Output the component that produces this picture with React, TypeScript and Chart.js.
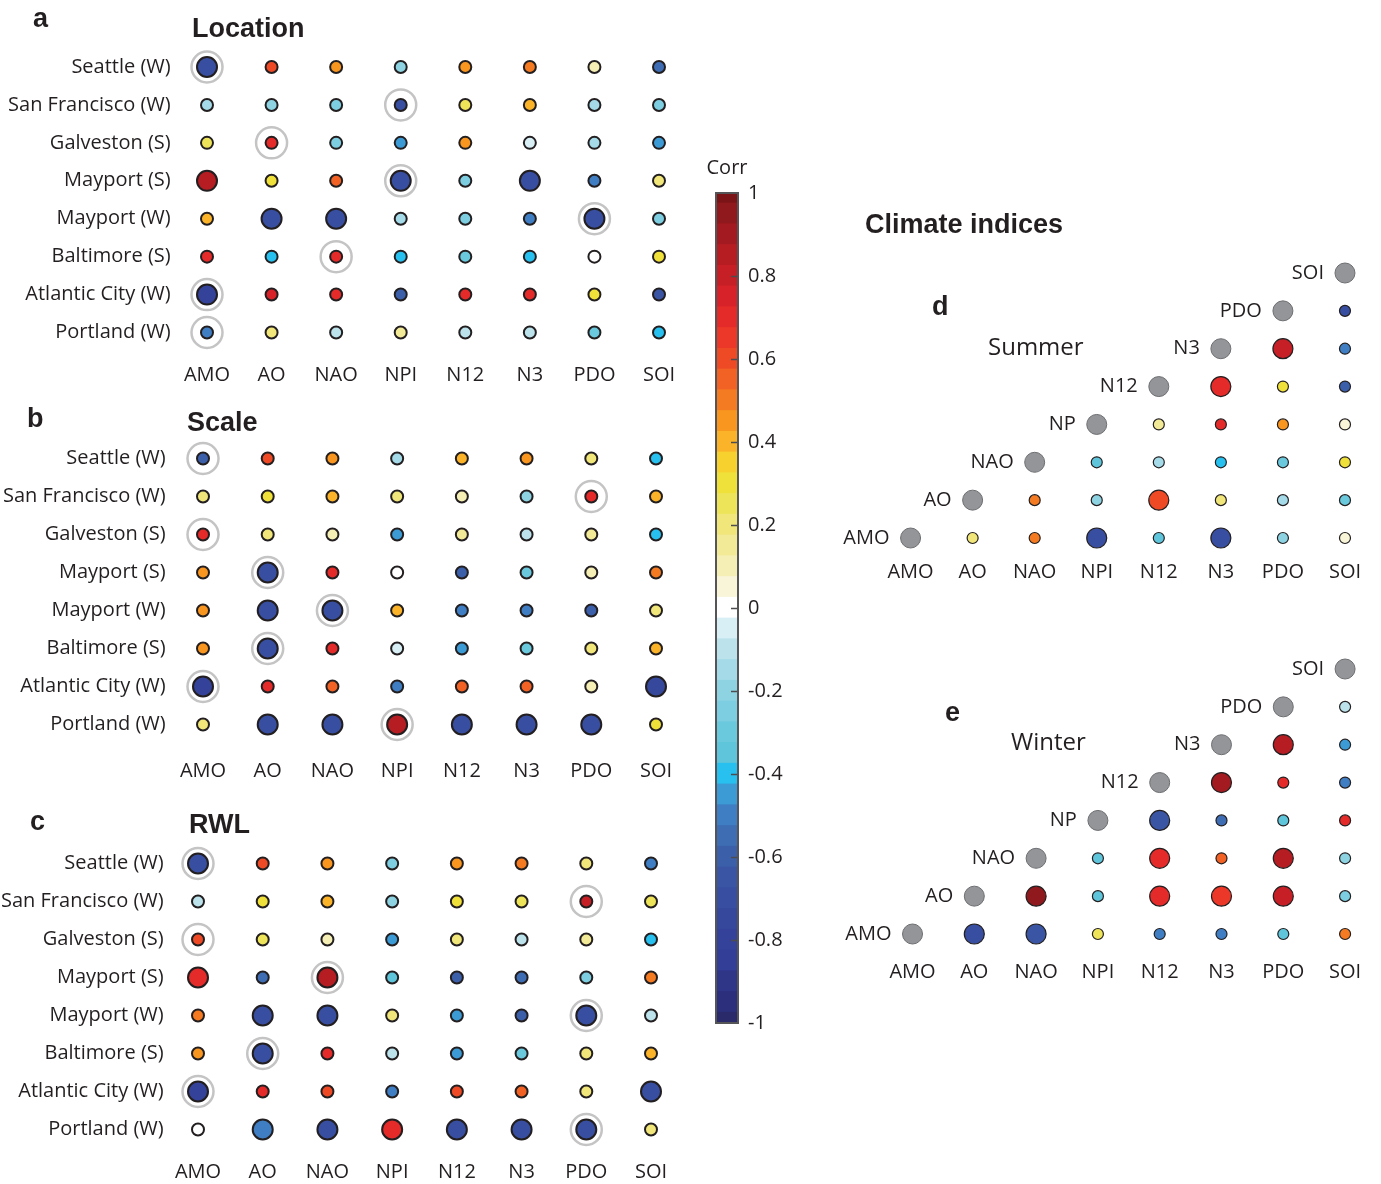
import React, { useEffect, useRef } from 'react';
import { Chart, registerables } from 'chart.js';
Chart.register(...registerables);

const PAGE_W = 1381;
const PAGE_H = 1184;
const FONT = '"Open Sans", "DejaVu Sans", sans-serif';
const BOLD = '"Liberation Sans", Arial, sans-serif';
const INK = '#231f20';

// ---------- categories ----------
const INDICES = ['AMO', 'AO', 'NAO', 'NPI', 'N12', 'N3', 'PDO', 'SOI'];
const ROW_INDICES = ['AMO', 'AO', 'NAO', 'NP', 'N12', 'N3', 'PDO', 'SOI'];
const SITES = ['Seattle (W)', 'San Francisco (W)', 'Galveston (S)', 'Mayport (S)', 'Mayport (W)', 'Baltimore (S)', 'Atlantic City (W)', 'Portland (W)'];

// ---------- panel a: Location ----------
const LOCATION_CORR = [
  [-0.72, 0.62, 0.45, -0.22, 0.45, 0.5, 0.12, -0.55],
  [-0.17, -0.2, -0.27, -0.7, 0.25, 0.4, -0.17, -0.27],
  [0.27, 0.68, -0.27, -0.45, 0.45, -0.07, -0.17, -0.45],
  [0.87, 0.3, 0.57, -0.72, -0.27, -0.72, -0.52, 0.18],
  [0.38, -0.7, -0.7, -0.17, -0.27, -0.52, -0.72, -0.27],
  [0.7, -0.4, 0.72, -0.4, -0.3, -0.4, 0.02, 0.3],
  [-0.78, 0.77, 0.7, -0.62, 0.7, 0.7, 0.32, -0.65],
  [-0.52, 0.2, -0.08, 0.15, -0.08, -0.08, -0.3, -0.4],
];
const LOCATION_BIG = [
  [1, 0, 0, 0, 0, 0, 0, 0],
  [0, 0, 0, 0, 0, 0, 0, 0],
  [0, 0, 0, 0, 0, 0, 0, 0],
  [1, 0, 0, 1, 0, 1, 0, 0],
  [0, 1, 1, 0, 0, 0, 1, 0],
  [0, 0, 0, 0, 0, 0, 0, 0],
  [1, 0, 0, 0, 0, 0, 0, 0],
  [0, 0, 0, 0, 0, 0, 0, 0],
];
const LOCATION_RING = [
  [1, 0, 0, 0, 0, 0, 0, 0],
  [0, 0, 0, 1, 0, 0, 0, 0],
  [0, 1, 0, 0, 0, 0, 0, 0],
  [0, 0, 0, 1, 0, 0, 0, 0],
  [0, 0, 0, 0, 0, 0, 1, 0],
  [0, 0, 1, 0, 0, 0, 0, 0],
  [1, 0, 0, 0, 0, 0, 0, 0],
  [1, 0, 0, 0, 0, 0, 0, 0],
];

// ---------- panel b: Scale ----------
const SCALE_CORR = [
  [-0.6, 0.58, 0.45, -0.17, 0.4, 0.45, 0.2, -0.4],
  [0.18, 0.3, 0.4, 0.18, 0.1, -0.2, 0.72, 0.4],
  [0.7, 0.2, 0.1, -0.45, 0.17, -0.12, 0.17, -0.4],
  [0.45, -0.72, 0.7, 0.02, -0.62, -0.3, 0.08, 0.52],
  [0.45, -0.7, -0.72, 0.4, -0.52, -0.52, -0.6, 0.18],
  [0.45, -0.72, 0.7, -0.07, -0.45, -0.3, 0.2, 0.4],
  [-0.78, 0.72, 0.57, -0.5, 0.57, 0.57, 0.12, -0.75],
  [0.22, -0.7, -0.7, 0.85, -0.7, -0.7, -0.7, 0.32],
];
const SCALE_BIG = [
  [0, 0, 0, 0, 0, 0, 0, 0],
  [0, 0, 0, 0, 0, 0, 0, 0],
  [0, 0, 0, 0, 0, 0, 0, 0],
  [0, 1, 0, 0, 0, 0, 0, 0],
  [0, 1, 1, 0, 0, 0, 0, 0],
  [0, 1, 0, 0, 0, 0, 0, 0],
  [1, 0, 0, 0, 0, 0, 0, 1],
  [0, 1, 1, 1, 1, 1, 1, 0],
];
const SCALE_RING = [
  [1, 0, 0, 0, 0, 0, 0, 0],
  [0, 0, 0, 0, 0, 0, 1, 0],
  [1, 0, 0, 0, 0, 0, 0, 0],
  [0, 1, 0, 0, 0, 0, 0, 0],
  [0, 0, 1, 0, 0, 0, 0, 0],
  [0, 1, 0, 0, 0, 0, 0, 0],
  [1, 0, 0, 0, 0, 0, 0, 0],
  [0, 0, 0, 1, 0, 0, 0, 0],
];

// ---------- panel c: RWL ----------
const RWL_CORR = [
  [-0.72, 0.62, 0.47, -0.27, 0.47, 0.52, 0.2, -0.5],
  [-0.08, 0.3, 0.4, -0.22, 0.28, 0.25, 0.82, 0.27],
  [0.6, 0.27, 0.1, -0.45, 0.2, -0.12, 0.17, -0.4],
  [0.7, -0.55, 0.85, -0.35, -0.62, -0.55, -0.27, 0.52],
  [0.5, -0.68, -0.68, 0.2, -0.45, -0.6, -0.68, -0.08],
  [0.47, -0.7, 0.72, -0.08, -0.45, -0.3, 0.2, 0.4],
  [-0.78, 0.68, 0.6, -0.5, 0.6, 0.57, 0.2, -0.72],
  [0.02, -0.5, -0.68, 0.7, -0.68, -0.68, -0.68, 0.2],
];
const RWL_BIG = [
  [1, 0, 0, 0, 0, 0, 0, 0],
  [0, 0, 0, 0, 0, 0, 0, 0],
  [0, 0, 0, 0, 0, 0, 0, 0],
  [1, 0, 1, 0, 0, 0, 0, 0],
  [0, 1, 1, 0, 0, 0, 1, 0],
  [0, 1, 0, 0, 0, 0, 0, 0],
  [1, 0, 0, 0, 0, 0, 0, 1],
  [0, 1, 1, 1, 1, 1, 1, 0],
];
const RWL_RING = [
  [1, 0, 0, 0, 0, 0, 0, 0],
  [0, 0, 0, 0, 0, 0, 1, 0],
  [1, 0, 0, 0, 0, 0, 0, 0],
  [0, 0, 1, 0, 0, 0, 0, 0],
  [0, 0, 0, 0, 0, 0, 1, 0],
  [0, 1, 0, 0, 0, 0, 0, 0],
  [1, 0, 0, 0, 0, 0, 0, 0],
  [0, 0, 0, 0, 0, 0, 1, 0],
];

// ---------- panels d/e: climate indices (upper triangle, row i -> columns i+1..7) ----------
const SUMMER_CORR = [
  [0.2, 0.5, -0.68, -0.33, -0.68, -0.22, 0.07],
  [0.5, -0.22, 0.6, 0.2, -0.15, -0.3],
  [-0.33, -0.15, -0.4, -0.3, 0.28],
  [0.15, 0.68, 0.45, 0.07],
  [0.68, 0.3, -0.6],
  [0.8, -0.5],
  [-0.7],
];
const SUMMER_BIG = [
  [0, 0, 1, 0, 1, 0, 0],
  [0, 0, 1, 0, 0, 0],
  [0, 0, 0, 0, 0],
  [0, 0, 0, 0],
  [1, 0, 0],
  [1, 0],
  [0],
];
const WINTER_CORR = [
  [-0.68, -0.65, 0.27, -0.52, -0.52, -0.33, 0.52],
  [0.97, -0.33, 0.68, 0.65, 0.8, -0.25],
  [-0.33, 0.68, 0.55, 0.85, -0.2],
  [-0.65, -0.55, -0.33, 0.7],
  [0.9, 0.7, -0.52],
  [0.85, -0.45],
  [-0.1],
];
const WINTER_BIG = [
  [1, 1, 0, 0, 0, 0, 0],
  [1, 0, 1, 1, 1, 0],
  [0, 1, 0, 1, 0],
  [1, 0, 0, 0],
  [1, 0, 0],
  [1, 0],
  [0],
];

// ---------- colour bar ----------
const CB_TICKS = [1, 0.8, 0.6, 0.4, 0.2, 0, -0.2, -0.4, -0.6, -0.8, -1];
// colours from -1 to 1 in steps of 0.05
const CMAP_COLORS = [
  '#2a2a6a', '#2c2f7c', '#2f3688', '#333e96', '#344399', '#36489c', '#384ea0', '#3a55a4', '#3c5faa', '#3e6db4',
  '#3f7ec3', '#3c9ad5', '#27c0ef', '#5ec5db', '#6bc9dd', '#7dcee0', '#8dd3e2', '#a5dbe8', '#bce3ec', '#d8eff5',
  '#ffffff',
  '#f8f5d8', '#f5efb5', '#f2ea96', '#f0e67a', '#eee45a', '#f0e03a', '#f7d12d', '#fbb429', '#f8961f', '#f47b21',
  '#f16224', '#ee4a26', '#ec3828', '#e52a2a', '#d62228', '#c61f26', '#b51d23', '#a31b20', '#8f191c', '#7b1416',
];
function corrColor(v: number) {
  const k = Math.max(0, Math.min(40, Math.round((v + 1) / 0.05)));
  return CMAP_COLORS[k];
}

type TextItem = { text: string; x: number; y: number; font: string; align?: CanvasTextAlign; color?: string };
function textPlugin(items: TextItem[]) {
  return {
    id: 'staticTexts',
    afterDraw(chart: any) {
      const ctx = chart.ctx;
      ctx.save();
      for (const t of items) {
        ctx.font = t.font;
        ctx.fillStyle = t.color || INK;
        ctx.textAlign = t.align || 'left';
        ctx.textBaseline = 'middle';
        ctx.fillText(t.text, t.x, t.y);
      }
      ctx.restore();
    },
  };
}

const TICK_FONT = { family: FONT, size: 20 };

type GridSpec = {
  corr: number[][]; big: number[][]; ring: number[][];
  x0: number; x7: number; y0: number; y7: number;
  labelPad: number; xPad: number; texts: TextItem[];
};

function gridConfig(s: GridSpec): any {
  const dx = (s.x7 - s.x0) / 7;
  const dy = (s.y7 - s.y0) / 7;
  const left = s.x0 - dx / 2, right = s.x7 + dx / 2, top = s.y0 - dy / 2, bottom = s.y7 + dy / 2;
  const XH = 50;
  const pts: any[] = [];
  const rings: any[] = [];
  s.corr.forEach((row, i) => row.forEach((v, j) => {
    pts.push({ x: j, y: i, v, big: s.big[i][j] });
    if (s.ring[i][j]) rings.push({ x: j, y: i });
  }));
  return {
    type: 'scatter',
    data: {
      datasets: [
        { data: rings, order: 2, clip: false, pointRadius: 15.5, pointHoverRadius: 15.5, pointBackgroundColor: 'rgba(0,0,0,0)', pointBorderColor: '#c4c4c4', pointBorderWidth: 2.5 },
        {
          data: pts, order: 1, clip: false,
          pointRadius: (c: any) => (c.raw && c.raw.big ? 10 : 6),
          pointBackgroundColor: (c: any) => (c.raw ? corrColor(c.raw.v) : '#fff'),
          pointBorderColor: INK, pointBorderWidth: 2,
        },
      ],
    },
    options: {
      responsive: false, animation: false, events: [], devicePixelRatio: 1,
      layout: { padding: { left: 0, top, right: PAGE_W - right, bottom: PAGE_H - bottom - XH } },
      plugins: { legend: { display: false }, tooltip: { enabled: false } },
      scales: {
        x: {
          type: 'linear', min: -0.5, max: 7.5,
          grid: { display: false, drawTicks: false }, border: { display: false },
          afterBuildTicks: (sc: any) => { sc.ticks = INDICES.map((_, i) => ({ value: i })); },
          afterFit: (sc: any) => { sc.height = XH; sc.paddingLeft = 0; sc.paddingRight = 0; },
          ticks: { callback: (v: number) => INDICES[v], font: TICK_FONT, color: INK, padding: s.xPad, maxRotation: 0, autoSkip: false },
        },
        y: {
          type: 'linear', min: -0.5, max: 7.5, reverse: true,
          grid: { display: false, drawTicks: false }, border: { display: false },
          afterBuildTicks: (sc: any) => { sc.ticks = SITES.map((_, i) => ({ value: i })); },
          afterFit: (sc: any) => { sc.width = left; sc.paddingTop = 0; sc.paddingBottom = 0; },
          ticks: { callback: (v: number) => SITES[v], font: TICK_FONT, color: INK, padding: s.labelPad, autoSkip: false },
        },
      },
    },
    plugins: [textPlugin(s.texts)],
  };
}

type TriSpec = {
  corr: number[][]; big: number[][];
  x0: number; x7: number; yBottom: number; yTop: number;
  xPad: number; texts: TextItem[];
};

function triConfig(s: TriSpec): any {
  const dx = (s.x7 - s.x0) / 7;
  const dy = (s.yBottom - s.yTop) / 7;
  const left = s.x0 - 0.4 * dx, right = s.x7 + 0.4 * dx, top = s.yTop - dy / 2, bottom = s.yBottom + dy / 2;
  const XH = 40;
  const diag = ROW_INDICES.map((_, i) => ({ x: i, y: i }));
  const pts: any[] = [];
  s.corr.forEach((row, i) => row.forEach((v, j) => {
    pts.push({ x: i + 1 + j, y: i, v, big: s.big[i][j] });
  }));
  const rowLabels = {
    id: 'rowLabels',
    afterDatasetsDraw(chart: any) {
      const ctx = chart.ctx;
      const xs = chart.scales.x, ys = chart.scales.y;
      ctx.save();
      ctx.font = `20px ${FONT}`;
      ctx.fillStyle = INK;
      ctx.textAlign = 'right';
      ctx.textBaseline = 'middle';
      ROW_INDICES.forEach((lab, i) => {
        ctx.fillText(lab, xs.getPixelForValue(i) - 21, ys.getPixelForValue(i));
      });
      ctx.restore();
    },
  };
  return {
    type: 'scatter',
    data: {
      datasets: [
        { data: diag, clip: false, pointRadius: 10, pointHoverRadius: 10, pointBackgroundColor: '#939598', pointBorderColor: '#6d6e71', pointBorderWidth: 1 },
        {
          data: pts, clip: false,
          pointRadius: (c: any) => (c.raw && c.raw.big ? 10 : 5.5),
          pointBackgroundColor: (c: any) => (c.raw ? corrColor(c.raw.v) : '#fff'),
          pointBorderColor: INK, pointBorderWidth: 1.2,
        },
      ],
    },
    options: {
      responsive: false, animation: false, events: [], devicePixelRatio: 1,
      layout: { padding: { left, top, right: PAGE_W - right, bottom: PAGE_H - bottom - XH } },
      plugins: { legend: { display: false }, tooltip: { enabled: false } },
      scales: {
        x: {
          type: 'linear', min: -0.4, max: 7.4,
          grid: { display: false, drawTicks: false }, border: { display: false },
          afterBuildTicks: (sc: any) => { sc.ticks = INDICES.map((_, i) => ({ value: i })); },
          afterFit: (sc: any) => { sc.height = XH; sc.paddingLeft = 0; sc.paddingRight = 0; },
          ticks: { callback: (v: number) => INDICES[v], font: TICK_FONT, color: INK, padding: s.xPad, maxRotation: 0, autoSkip: false },
        },
        y: { type: 'linear', min: -0.5, max: 7.5, display: false },
      },
    },
    plugins: [textPlugin(s.texts), rowLabels],
  };
}

const CB_LEFT = 716, CB_RIGHT = 738, CB_TOP = 193, CB_BOTTOM = 1023;

function colorbarConfig(): any {
  const frame = {
    id: 'cbFrame',
    afterDatasetsDraw(chart: any) {
      const { left, right, top, bottom } = chart.chartArea;
      const ys = chart.scales.y;
      const ctx = chart.ctx;
      ctx.save();
      ctx.strokeStyle = '#4d4d4f';
      ctx.lineWidth = 1.5;
      CB_TICKS.forEach((t) => {
        if (Math.abs(t) === 1) return;
        const y = Math.round(ys.getPixelForValue(t)) + 0.5;
        ctx.beginPath();
        ctx.moveTo(right - 7, y);
        ctx.lineTo(right, y);
        ctx.stroke();
      });
      ctx.lineWidth = 2;
      ctx.strokeStyle = '#555557';
      ctx.strokeRect(left, top, right - left, bottom - top);
      ctx.restore();
    },
  };
  return {
    type: 'bar',
    data: {
      labels: ['Corr'],
      datasets: CMAP_COLORS.map((c, k) => {
        const v = -1 + 0.05 * k;
        return {
          data: [[Math.max(-1, v - 0.026), Math.min(1, v + 0.026)]],
          backgroundColor: c, borderWidth: 0, barPercentage: 1, categoryPercentage: 1, grouped: false,
        };
      }),
    },
    options: {
      responsive: false, animation: false, events: [], devicePixelRatio: 1,
      layout: { padding: { left: CB_LEFT, right: 0, top: CB_TOP, bottom: PAGE_H - CB_BOTTOM } },
      plugins: { legend: { display: false }, tooltip: { enabled: false } },
      scales: {
        x: { display: false },
        y: {
          position: 'right', min: -1, max: 1,
          grid: { display: false, drawTicks: false }, border: { display: false },
          afterBuildTicks: (sc: any) => { sc.ticks = CB_TICKS.map((v) => ({ value: v })); },
          afterFit: (sc: any) => { sc.width = PAGE_W - CB_RIGHT; sc.paddingTop = 0; sc.paddingBottom = 0; },
          ticks: { callback: (v: number) => String(v), font: TICK_FONT, color: INK, padding: 10, autoSkip: false },
        },
      },
    },
    plugins: [frame, textPlugin([{ text: 'Corr', x: 727, y: 168, font: `20px ${FONT}`, align: 'center' }])],
  };
}

const LETTER = `bold 27px ${BOLD}`;
const TITLE = `bold 27px ${BOLD}`;
const SUB = `24px ${FONT}`;

const buildA = () => gridConfig({
  corr: LOCATION_CORR, big: LOCATION_BIG, ring: LOCATION_RING,
  x0: 207, x7: 659, y0: 67, y7: 332.5, labelPad: 4, xPad: 12,
  texts: [
    { text: 'a', x: 33, y: 20, font: LETTER },
    { text: 'Location', x: 192, y: 30, font: TITLE },
  ],
});
const buildB = () => gridConfig({
  corr: SCALE_CORR, big: SCALE_BIG, ring: SCALE_RING,
  x0: 203, x7: 656, y0: 458.5, y7: 724.5, labelPad: 5, xPad: 16,
  texts: [
    { text: 'b', x: 27, y: 420, font: LETTER },
    { text: 'Scale', x: 187, y: 424, font: TITLE },
  ],
});
const buildC = () => gridConfig({
  corr: RWL_CORR, big: RWL_BIG, ring: RWL_RING,
  x0: 198, x7: 651, y0: 863.5, y7: 1129.5, labelPad: 2, xPad: 12,
  texts: [
    { text: 'c', x: 30, y: 823, font: LETTER },
    { text: 'RWL', x: 189, y: 826, font: TITLE },
  ],
});
const buildD = () => triConfig({
  corr: SUMMER_CORR, big: SUMMER_BIG,
  x0: 911, x7: 1353, yBottom: 538, yTop: 273, xPad: 3,
  texts: [
    { text: 'Climate indices', x: 865, y: 226, font: TITLE },
    { text: 'd', x: 932, y: 308, font: LETTER },
    { text: 'Summer', x: 988, y: 348, font: SUB },
  ],
});
const buildE = () => triConfig({
  corr: WINTER_CORR, big: WINTER_BIG,
  x0: 913, x7: 1354, yBottom: 934, yTop: 669, xPad: 7,
  texts: [
    { text: 'e', x: 945, y: 714, font: LETTER },
    { text: 'Winter', x: 1011, y: 743, font: SUB },
  ],
});

function ChartLayer({ build }: { build: () => any }) {
  const ref = useRef<HTMLCanvasElement>(null);
  useEffect(() => {
    const chart = new Chart(ref.current as HTMLCanvasElement, build());
    return () => chart.destroy();
  }, [build]);
  return (
    <canvas
      ref={ref}
      width={PAGE_W}
      height={PAGE_H}
      style={{ position: 'absolute', left: 0, top: 0, width: PAGE_W, height: PAGE_H }}
    />
  );
}

export default function App() {
  return (
    <div style={{ position: 'absolute', left: 0, top: 0, width: PAGE_W, height: PAGE_H, background: '#fff', overflow: 'hidden' }}>
      <ChartLayer build={buildA} />
      <ChartLayer build={buildB} />
      <ChartLayer build={buildC} />
      <ChartLayer build={buildD} />
      <ChartLayer build={buildE} />
      <ChartLayer build={colorbarConfig} />
    </div>
  );
}
